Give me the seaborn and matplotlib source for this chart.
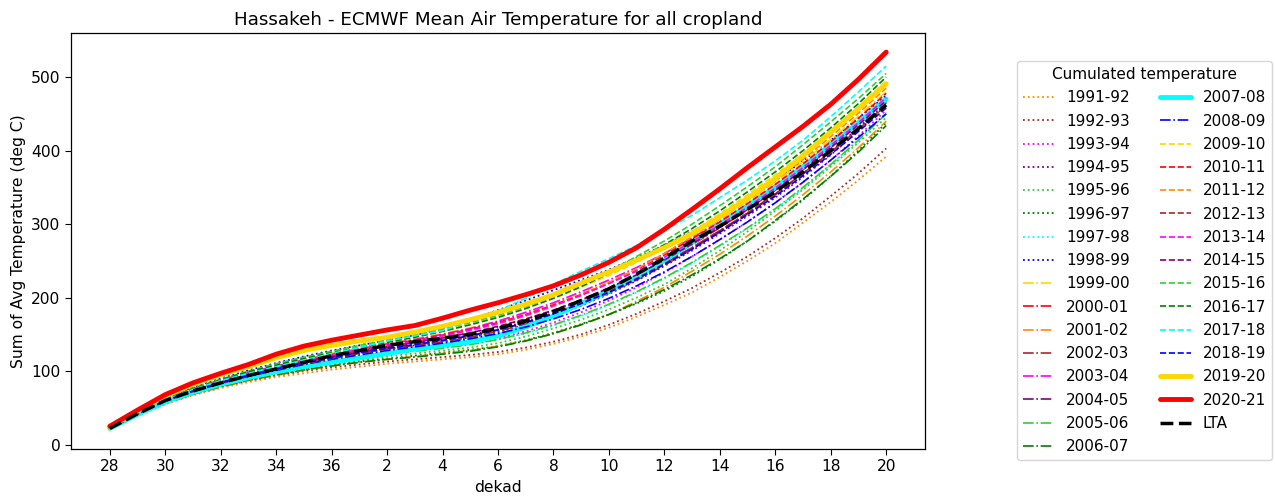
import matplotlib
matplotlib.use("Agg")
import matplotlib.pyplot as plt
import numpy as np
import seaborn as sns

# dekads of the season (28..36 of first year, then 1..20)
dekads = [28, 29, 30, 31, 32, 33, 34, 35, 36, 1, 2, 3, 4, 5, 6, 7, 8, 9, 10,
          11, 12, 13, 14, 15, 16, 17, 18, 19, 20]

seasons = ['1991-92', '1992-93', '1993-94', '1994-95', '1995-96', '1996-97',
           '1997-98', '1998-99', '1999-00', '2000-01', '2001-02', '2002-03',
           '2003-04', '2004-05', '2005-06', '2006-07', '2007-08', '2008-09',
           '2009-10', '2010-11', '2011-12', '2012-13', '2013-14', '2014-15',
           '2015-16', '2016-17', '2017-18', '2018-19', '2019-20', '2020-21']

# cumulated temperature (deg C)
t_1991_92 = [22, 40, 55, 67, 77, 85, 92, 97, 102, 106, 110, 113, 116, 119, 123, 129, 137, 147, 159, 174, 190, 207, 228, 250, 274, 302, 330, 360, 392]
t_1992_93 = [23, 41, 57, 69, 79, 87, 94, 100, 105, 109, 113, 116, 119, 122, 126, 132, 140, 150, 163, 178, 195, 213, 234, 256, 281, 308, 338, 369, 403]
t_1993_94 = [22, 41, 58, 71, 82, 91, 99, 107, 114, 120, 125, 129, 133, 138, 145, 154, 166, 180, 196, 214, 234, 256, 279, 303, 329, 357, 387, 420, 455]
t_1994_95 = [23, 42, 60, 74, 85, 95, 104, 112, 119, 125, 130, 135, 140, 146, 153, 163, 175, 189, 205, 223, 243, 264, 287, 311, 336, 364, 394, 427, 462]
t_1995_96 = [22, 40, 57, 70, 80, 89, 97, 104, 110, 115, 120, 124, 128, 132, 138, 147, 158, 170, 184, 200, 218, 240, 264, 290, 318, 347, 378, 411, 445]
t_1996_97 = [22, 40, 56, 69, 79, 88, 95, 102, 108, 113, 117, 121, 125, 129, 134, 142, 152, 164, 177, 192, 209, 229, 252, 277, 304, 333, 365, 400, 438]
t_1997_98 = [22, 41, 58, 72, 83, 93, 101, 108, 114, 119, 124, 128, 132, 137, 143, 151, 162, 175, 190, 207, 226, 247, 270, 294, 320, 349, 381, 415, 452]
t_1998_99 = [23, 44, 63, 78, 90, 101, 111, 120, 128, 135, 142, 149, 158, 170, 183, 196, 210, 224, 238, 254, 271, 290, 311, 334, 359, 386, 414, 444, 475]
t_1999_00 = [23, 43, 62, 76, 88, 98, 107, 116, 124, 131, 138, 144, 151, 159, 168, 179, 192, 206, 222, 240, 260, 282, 306, 331, 357, 385, 415, 447, 480]
t_2000_01 = [22, 42, 61, 75, 86, 96, 105, 113, 121, 128, 134, 139, 145, 152, 160, 170, 182, 196, 212, 230, 250, 272, 295, 320, 346, 374, 404, 436, 470]
t_2001_02 = [22, 40, 56, 68, 78, 87, 94, 101, 107, 112, 116, 120, 124, 128, 134, 141, 151, 163, 177, 195, 214, 236, 259, 284, 311, 340, 371, 404, 440]
t_2002_03 = [22, 41, 59, 72, 83, 93, 102, 110, 117, 124, 130, 135, 140, 146, 154, 164, 176, 190, 206, 224, 244, 266, 289, 314, 340, 368, 398, 430, 465]
t_2003_04 = [23, 43, 62, 76, 88, 98, 107, 115, 123, 130, 137, 143, 150, 158, 168, 180, 193, 208, 224, 241, 260, 281, 303, 327, 353, 380, 409, 439, 470]
t_2004_05 = [22, 42, 60, 74, 85, 95, 104, 112, 119, 126, 132, 137, 143, 149, 157, 167, 179, 193, 209, 227, 247, 268, 291, 315, 341, 369, 399, 431, 466]
t_2005_06 = [22, 41, 58, 71, 82, 91, 99, 106, 112, 118, 123, 127, 131, 136, 143, 152, 163, 176, 191, 208, 227, 248, 271, 295, 321, 350, 381, 414, 450]
t_2006_07 = [22, 40, 56, 69, 79, 88, 95, 102, 107, 112, 116, 119, 123, 127, 133, 141, 151, 163, 177, 193, 211, 231, 253, 277, 305, 334, 365, 398, 434]
t_2007_08 = [22, 41, 58, 71, 82, 91, 99, 106, 112, 118, 124, 130, 135, 140, 148, 160, 175, 192, 209, 228, 250, 275, 300, 325, 350, 378, 408, 438, 470]
t_2008_09 = [22, 42, 60, 73, 84, 93, 101, 109, 116, 122, 128, 133, 138, 144, 151, 160, 171, 184, 199, 216, 235, 256, 279, 303, 329, 357, 387, 418, 450]
t_2009_10 = [23, 43, 62, 76, 88, 99, 108, 117, 125, 133, 140, 147, 155, 164, 174, 186, 199, 214, 230, 248, 268, 290, 314, 340, 367, 396, 427, 460, 495]
t_2010_11 = [22, 42, 61, 75, 87, 97, 106, 114, 122, 129, 136, 142, 149, 157, 166, 177, 190, 204, 220, 238, 258, 280, 303, 328, 354, 382, 412, 444, 478]
t_2011_12 = [22, 42, 60, 74, 85, 95, 104, 112, 120, 127, 134, 140, 147, 155, 164, 175, 188, 203, 220, 239, 260, 283, 307, 332, 359, 388, 419, 451, 485]
t_2012_13 = [22, 41, 59, 72, 83, 93, 102, 110, 117, 124, 130, 135, 141, 148, 156, 166, 178, 192, 208, 226, 246, 268, 291, 315, 341, 369, 398, 429, 462]
t_2013_14 = [22, 42, 61, 75, 86, 96, 105, 113, 121, 128, 135, 141, 148, 156, 165, 176, 189, 203, 219, 236, 255, 276, 299, 323, 349, 377, 407, 438, 472]
t_2014_15 = [22, 42, 60, 74, 85, 95, 104, 112, 120, 127, 133, 139, 145, 152, 161, 171, 183, 197, 213, 231, 251, 273, 296, 320, 346, 374, 404, 435, 468]
t_2015_16 = [23, 43, 62, 77, 89, 100, 110, 119, 127, 135, 142, 149, 157, 166, 176, 188, 202, 218, 236, 256, 277, 300, 325, 351, 378, 408, 439, 471, 505]
t_2016_17 = [23, 43, 62, 76, 88, 99, 108, 117, 125, 132, 139, 146, 154, 163, 173, 185, 199, 215, 233, 252, 272, 294, 318, 344, 371, 400, 431, 464, 500]
t_2017_18 = [22, 42, 61, 75, 87, 97, 106, 115, 124, 132, 141, 148, 155, 168, 182, 199, 218, 236, 253, 271, 291, 312, 336, 360, 386, 414, 446, 480, 515]
t_2018_19 = [22, 42, 60, 73, 84, 94, 103, 111, 118, 125, 131, 136, 142, 148, 156, 166, 178, 192, 207, 225, 245, 266, 289, 313, 338, 366, 395, 426, 458]
t_2019_20 = [24, 46, 66, 82, 95, 106, 118, 128, 135, 141, 146, 153, 161, 170, 180, 191, 204, 220, 235, 251, 268, 287, 310, 335, 362, 393, 425, 457, 491]
t_2020_21 = [25, 47, 68, 84, 97, 109, 123, 134, 142, 149, 156, 162, 172, 183, 193, 204, 216, 231, 248, 268, 293, 320, 348, 377, 405, 433, 463, 497, 534]
t_lta = [22, 42, 60, 73, 84, 94, 103, 112, 121, 128, 135, 140, 145, 150, 158, 168, 181, 196, 212, 232, 254, 277, 297, 320, 344, 371, 400, 430, 462]

series = [t_1991_92, t_1992_93, t_1993_94, t_1994_95, t_1995_96, t_1996_97,
          t_1997_98, t_1998_99, t_1999_00, t_2000_01, t_2001_02, t_2002_03,
          t_2003_04, t_2004_05, t_2005_06, t_2006_07, t_2007_08, t_2008_09,
          t_2009_10, t_2010_11, t_2011_12, t_2012_13, t_2013_14, t_2014_15,
          t_2015_16, t_2016_17, t_2017_18, t_2018_19, t_2019_20, t_2020_21]

# line styles
color_cycle = ['gold', 'red', 'darkorange', 'brown', 'magenta', 'purple',
               'limegreen', 'green', 'cyan', 'blue']
thick = {'2007-08', '2019-20', '2020-21'}

sns.set_style('ticks')
plt.rcParams['font.family'] = ['DejaVu Sans']
plt.rcParams['text.color'] = 'black'
plt.rcParams['axes.labelcolor'] = 'black'
plt.rcParams['xtick.color'] = 'black'
plt.rcParams['ytick.color'] = 'black'

fig, ax = plt.subplots(figsize=(12.75, 5), dpi=100)
fig.subplots_adjust(left=0.0557, right=0.7255, bottom=0.102, top=0.934)

x = np.arange(len(dekads))
for i, (season, vals) in enumerate(zip(seasons, series)):
    col = color_cycle[(i + 2) % 10]
    if season in thick:
        ls, lw = '-', 3.5
    elif i < 8:
        ls, lw = ':', 1.3
    elif i < 18:
        ls, lw = '-.', 1.2
    else:
        ls, lw = '--', 1.2
    sns.lineplot(x=x, y=vals, ax=ax, color=col, linestyle=ls, linewidth=lw,
                 label=season)

sns.lineplot(x=x, y=t_lta, ax=ax, color='black', linestyle='--', linewidth=2.5,
             label='LTA')

ax.set_xticks(x[::2])
ax.set_xticklabels([str(d) for d in dekads[::2]])
ax.set_ylim(-6, 560)
ax.set_yticks([0, 100, 200, 300, 400, 500])
ax.tick_params(labelsize=11.2, length=4, color='black')
for sp in ax.spines.values():
    sp.set_color('black')
    sp.set_linewidth(0.9)

ax.set_xlabel('dekad', fontsize=11.2)
ax.set_ylabel('Sum of Avg Temperature (deg C)', fontsize=11.2)
ax.set_title('Hassakeh - ECMWF Mean Air Temperature for all cropland', fontsize=13.2)

handles, labels = ax.get_legend_handles_labels()
ax.legend_.remove()
leg = fig.legend(handles, labels, ncol=2, loc='upper left',
                 bbox_to_anchor=(0.7976, 0.878), borderaxespad=0,
                 title='Cumulated temperature',
                 fontsize=11, title_fontsize=11, labelspacing=0.54,
                 columnspacing=2.0, handlelength=2.0, frameon=True,
                 fancybox=True, edgecolor='0.8')

fig.savefig('out.png', dpi=100)
